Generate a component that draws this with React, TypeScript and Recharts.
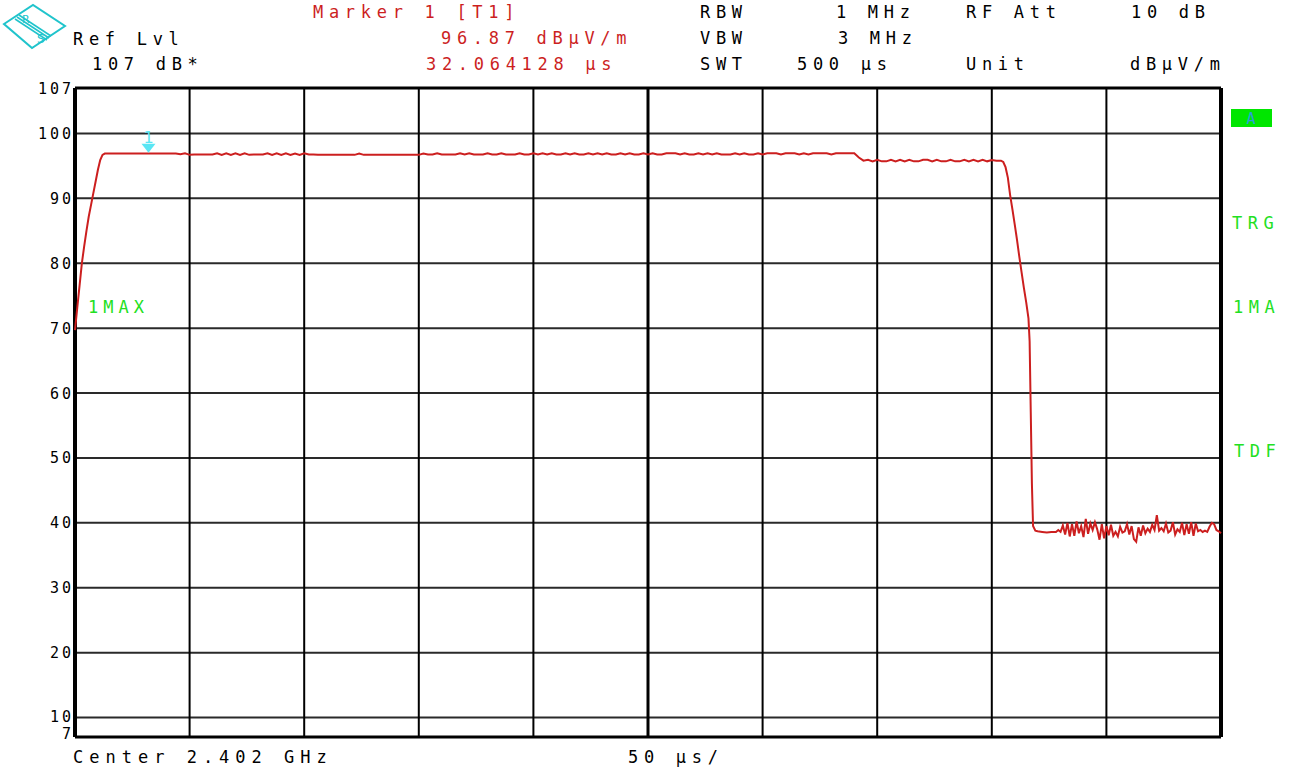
import React from 'react';
import { LineChart, Line, XAxis, YAxis, ReferenceLine, ReferenceDot } from 'recharts';

// sweep time in µs, level in dBµV/m
const riseTimes = [0, 1, 2, 3, 4, 5, 6, 7, 8, 9, 10, 11, 12, 13];
const riseLevels = [69.7, 73.2, 76.6, 80.0, 82.6, 85.0, 87.2, 89.0, 90.8, 92.6, 94.4, 95.9, 96.7, 96.9];

// t = 14 .. 340, every 2 µs
const plateauA = [
  96.9, 96.9, 96.9, 96.9, 96.9, 96.9, 96.9, 96.9, 96.9, 96.9,
  96.9, 96.9, 96.9, 96.9, 96.9, 96.9, 96.8, 96.95, 96.7, 96.75,
  96.75, 96.75, 96.75, 96.75, 96.95, 96.7, 96.95, 96.7, 96.95, 96.7,
  96.95, 96.7, 96.75, 96.75, 96.75, 96.95, 96.7, 96.95, 96.7, 96.95,
  96.7, 96.9, 96.7, 96.95, 96.75, 96.75, 96.7, 96.7, 96.7, 96.7,
  96.7, 96.7, 96.7, 96.7, 96.7, 96.9, 96.7, 96.7, 96.7, 96.7,
  96.7, 96.7, 96.7, 96.7, 96.7, 96.7, 96.7, 96.7, 96.7, 96.9,
  96.75, 96.75, 96.95, 96.75, 96.75, 96.75, 96.75, 96.95, 96.75, 96.95,
  96.75, 96.75, 96.75, 96.95, 96.75, 96.75, 96.95, 96.75, 96.75, 96.75,
  96.95, 96.75, 96.75, 96.95, 96.75, 96.95, 96.75, 96.95, 96.75, 96.75,
  96.95, 96.75, 96.95, 96.75, 96.75, 96.95, 96.75, 96.95, 96.75, 96.95,
  96.75, 96.75, 96.95, 96.75, 96.95, 96.75, 96.75, 96.95, 96.75, 96.95,
  96.75, 96.75, 96.95, 96.95, 96.95, 96.75, 96.95, 96.75, 96.75, 96.95,
  96.75, 96.95, 96.75, 96.95, 96.75, 96.75, 96.75, 96.95, 96.75, 96.95,
  96.75, 96.75, 96.95, 96.75, 96.95, 96.95, 96.95, 96.75, 96.95, 96.95,
  96.95, 96.75, 96.95, 96.75, 96.95, 96.95, 96.95, 96.95, 96.75, 96.95,
  96.95, 96.95, 96.95, 96.95,
];

// t = 342 .. 404, every 2 µs
const plateauB = [
  96.3, 95.8, 95.95, 95.7, 95.95, 95.7, 95.7, 95.95, 95.7, 95.95,
  95.7, 95.95, 95.7, 95.7, 95.95, 95.95, 95.7, 95.95, 95.7, 95.7,
  95.95, 95.7, 95.7, 95.95, 95.7, 95.95, 95.7, 95.95, 95.7, 95.9,
  95.8, 95.8,
];

const fallTimes = [405, 406, 407, 408, 409, 410, 411, 412, 413, 414, 415, 416, 416.5, 417, 417.5, 418, 419, 420, 422, 424, 426, 428, 429];
const fallLevels = [95.6, 94.8, 93.2, 90.5, 88.3, 86.0, 83.6, 81.0, 78.6, 76.2, 74.0, 71.5, 68.0, 57.0, 46.0, 39.5, 38.8, 38.7, 38.6, 38.5, 38.6, 38.6, 38.9];

// t = 430 .. 500, every 1 µs
const noiseFloor = [
  38.6, 39.6, 38.2, 40.0, 37.9, 39.8, 38.0, 40.2, 38.4, 39.5,
  37.8, 40.6, 38.3, 39.9, 38.9, 40.1, 39.0, 37.4, 39.8, 37.6,
  39.5, 38.1, 39.7, 38.0, 38.6, 37.9, 39.4, 38.5, 38.7, 39.8,
  38.2, 39.5, 37.5, 37.1, 39.3, 38.0, 39.6, 38.4, 39.1, 38.6,
  39.7, 38.9, 41.2, 38.8, 39.2, 38.7, 39.9, 38.5, 38.8, 40.1,
  38.2, 39.0, 38.6, 40.0, 38.1, 39.8, 38.3, 40.1, 38.0, 39.9,
  38.7, 38.9, 38.6, 38.8, 38.6, 39.4, 40.0, 39.8, 38.9, 38.7,
  38.4,
];

const yTicks = [7, 10, 20, 30, 40, 50, 60, 70, 80, 90, 100, 107];
const yGrid = [10, 20, 30, 40, 50, 60, 70, 80, 90, 100];
const xGrid = [50, 100, 150, 200, 300, 350, 400, 450];

const marker = { t: 32.064128, level: 96.87 };

const trace = [
  ...riseTimes.map((t, i) => ({ t, v: riseLevels[i] })),
  ...plateauA.map((v, i) => ({ t: 14 + 2 * i, v })),
  ...plateauB.map((v, i) => ({ t: 342 + 2 * i, v })),
  ...fallTimes.map((t, i) => ({ t, v: fallLevels[i] })),
  ...noiseFloor.map((v, i) => ({ t: 430 + i, v })),
];

const FONT = '"DejaVu Sans Mono", monospace';
const RED = '#cc1f1f';
const GREEN = '#22e022';
const CYAN = '#5ae6f4';
const LOGO = '#20c4cc';

const YTick = ({ y, payload }: any) => {
  const v = payload.value;
  const dy = v === 7 ? 2 : v === 10 ? 4 : 5.5;
  return (
    <text x={74} y={y + dy} textAnchor="end" fontFamily={FONT} fontSize={15} letterSpacing={3} fill="#000">
      {v}
    </text>
  );
};

const MarkerShape = ({ cx, cy }: any) => (
  <g>
    <path d={`M${cx - 7},${cy - 10} L${cx + 7},${cy - 10} L${cx},${cy - 1} Z`} fill={CYAN} />
    <text x={cx} y={cy - 11} textAnchor="middle" fontFamily="DejaVu Sans" fontSize={16} fill={CYAN}>1</text>
  </g>
);

const T = ({ x, y, c = '#000', ls = 5.7, children }: any) => (
  <text x={x} y={y} fill={c} fontFamily={FONT} fontSize={17} letterSpacing={ls}>{children}</text>
);

export default function App() {
  return (
    <div style={{ position: 'absolute', left: 0, top: 0, width: 1292, height: 772, background: '#fff' }}>
      <LineChart width={1292} height={772} data={trace} margin={{ top: 88, right: 71, bottom: 35, left: 15 }}>
        <XAxis dataKey="t" type="number" domain={[0, 500]} hide />
        <YAxis type="number" domain={[7, 107]} ticks={yTicks} interval={0} width={60} axisLine={false} tickLine={false} tick={<YTick />} allowDataOverflow />
        {yGrid.map(v => (
          <ReferenceLine key={'h' + v} y={v} stroke="#2a2a2a" strokeWidth={2} />
        ))}
        {xGrid.map(v => (
          <ReferenceLine key={'v' + v} x={v} stroke="#000" strokeWidth={2} />
        ))}
        <ReferenceLine x={250} stroke="#000" strokeWidth={3} />
        <ReferenceLine x={0} stroke="#000" strokeWidth={4} />
        <ReferenceLine x={500} stroke="#000" strokeWidth={4} />
        <ReferenceLine y={107} stroke="#000" strokeWidth={3} />
        <ReferenceLine y={7} stroke="#000" strokeWidth={3} />
        <Line type="linear" dataKey="v" stroke={RED} strokeWidth={2} dot={false} isAnimationActive={false} />
        <ReferenceDot x={marker.t} y={marker.level} shape={<MarkerShape />} />
      </LineChart>
      <svg width={1292} height={772} style={{ position: 'absolute', left: 0, top: 0, pointerEvents: 'none' }}>
        {/* R&S logo */}
        <g stroke={LOGO} strokeWidth={2} fill="none">
          <path d="M4,24 L33,5 L65,26 L32,48 Z" />
          <path d="M19,15 L51,36" strokeWidth={1.5} />
          <path d="M17,17 L49,38" strokeWidth={1.5} />
          <path d="M15,19 L47,40" strokeWidth={1.5} />
        </g>
        <text x={22} y={23} fontFamily="DejaVu Sans" fontSize={11} fill={LOGO}>R</text>
        <text x={37} y={43} fontFamily="DejaVu Sans" fontSize={12} fill={LOGO}>S</text>

        <T x={73} y={45}>Ref Lvl</T>
        <T x={92} y={70}>107 dB*</T>

        <T x={313} y={18} c={RED}>Marker 1 [T1]</T>
        <T x={441} y={44} c={RED}>96.87 dBμV/m</T>
        <T x={426} y={70} c={RED}>32.064128 μs</T>

        <T x={700} y={18}>RBW</T>
        <T x={836} y={18}>1 MHz</T>
        <T x={966} y={18}>RF Att</T>
        <T x={1131} y={18}>10 dB</T>
        <T x={700} y={44}>VBW</T>
        <T x={838} y={44}>3 MHz</T>
        <T x={700} y={70}>SWT</T>
        <T x={797} y={70}>500 μs</T>
        <T x={966} y={70}>Unit</T>
        <T x={1130} y={70}>dBμV/m</T>

        <T x={73} y={763} ls={6}>Center 2.402 GHz</T>
        <T x={628} y={763}>50 μs/</T>

        <T x={88} y={313} c={GREEN} ls={5}>1MAX</T>
        <rect x={1231} y={109} width={41} height={18} fill="#00e600" />
        <text x={1251} y={124} textAnchor="middle" fontFamily={FONT} fontSize={15} fill="#2aa0d8">A</text>
        <T x={1232} y={229} c={GREEN} ls={5.5}>TRG</T>
        <T x={1233} y={313} c={GREEN} ls={5.5}>1MA</T>
        <T x={1234} y={457} c={GREEN} ls={5.5}>TDF</T>
      </svg>
    </div>
  );
}
